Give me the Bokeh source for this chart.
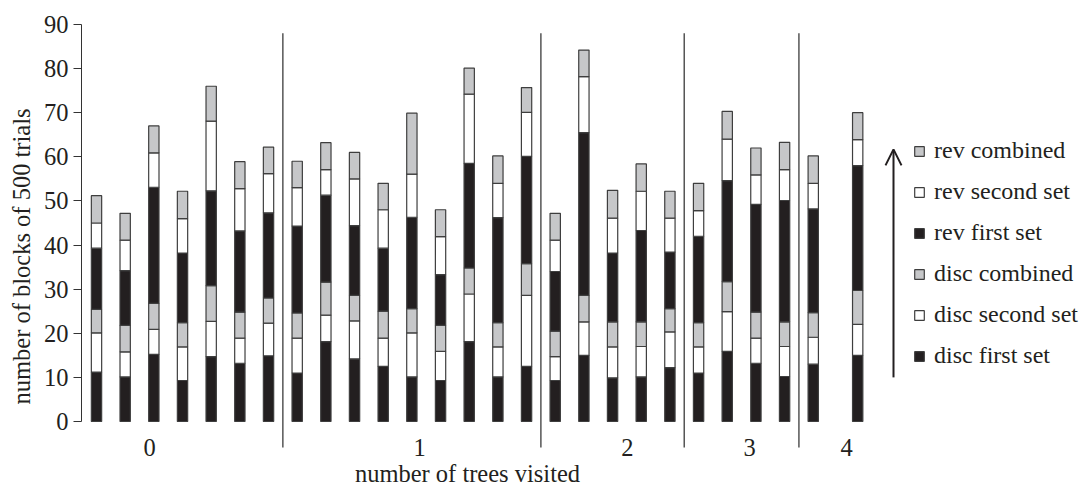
from bokeh.plotting import figure
from bokeh.models import (ColumnDataSource, Range1d, FixedTicker, Legend, LegendItem,
                          Arrow, OpenHead)
from bokeh.core.properties import value
from bokeh.embed import file_html
from bokeh.resources import INLINE

# ---- data ----
group_names = ["0", "1", "2", "3", "4"]
group_sizes = [7, 9, 5, 4, 2]
# slot position of each bar along the x axis
bar_slot = [0, 1, 2, 3, 4, 5, 6,
            7, 8, 9, 10, 11, 12, 13, 14, 15,
            16, 17, 18, 19, 20,
            21, 22, 23, 24,
            25, 26.55]

disc_first = [11.2, 10.1, 15.2, 9.3, 14.7, 13.2, 14.9,
              11.0, 18.1, 14.2, 12.5, 10.1, 9.3, 18.1, 10.1, 12.5,
              9.3, 15.0, 9.9, 10.1, 12.2,
              11.0, 15.9, 13.2, 10.2,
              13.0, 15.0]
disc_second = [8.9, 5.7, 5.7, 7.6, 8.0, 5.7, 7.4,
               7.9, 6.0, 8.6, 6.4, 10.0, 6.6, 10.8, 6.8, 16.1,
               5.4, 7.6, 7.0, 6.9, 8.1,
               5.9, 9.0, 5.7, 6.8,
               6.1, 7.0]
disc_combined = [5.3, 6.0, 5.9, 5.5, 8.1, 5.9, 5.7,
                 5.7, 7.5, 5.8, 6.1, 5.5, 5.9, 5.9, 5.5, 7.2,
                 5.8, 6.0, 5.7, 5.6, 5.3,
                 5.5, 6.8, 5.9, 5.6,
                 5.6, 7.7]
rev_first = [13.9, 12.4, 26.3, 15.8, 21.5, 18.4, 19.3,
             19.7, 19.7, 15.8, 14.3, 20.7, 11.5, 23.7, 23.8, 24.3,
             13.5, 36.9, 15.6, 20.7, 12.8,
             19.6, 22.9, 24.4, 27.5,
             23.5, 28.3]
rev_second = [5.7, 6.9, 7.8, 7.8, 15.8, 9.6, 8.9,
              8.7, 5.8, 10.6, 8.7, 9.8, 8.6, 15.7, 7.8, 10.0,
              7.1, 12.7, 7.9, 8.9, 7.7,
              5.8, 9.4, 6.7, 7.0,
              5.8, 5.9]
rev_combined = [6.2, 6.1, 6.1, 6.2, 7.9, 6.1, 6.0,
                6.0, 6.1, 6.0, 6.0, 13.8, 6.1, 5.9, 6.2, 5.6,
                6.1, 6.0, 6.3, 6.2, 6.1,
                6.2, 6.3, 6.1, 6.2,
                6.2, 6.1]

series_keys = ["disc_first", "disc_second", "disc_combined",
               "rev_first", "rev_second", "rev_combined"]
series_labels = ["disc first set", "disc second set", "disc combined",
                 "rev first set", "rev second set", "rev combined"]
y_ticks = [0, 10, 20, 30, 40, 50, 60, 70, 80, 90]

# group label positions (slot units)
group_label_x = [1.85, 11.27, 18.52, 22.78, 26.16]

BLACK = "#231f20"
GRAY = "#c6c7c9"
WHITE = "#ffffff"
EDGE = "#3e3e3e"
FONT = "Liberation Serif"
FS = "24.5px"

source = ColumnDataSource(dict(
    x=bar_slot,
    disc_first=disc_first, disc_second=disc_second, disc_combined=disc_combined,
    rev_first=rev_first, rev_second=rev_second, rev_combined=rev_combined,
))

W, H = 1081, 488
LEFT, TOP = 81, 24
px_per_slot = 28.67
px_per_unit = 397 / 90.0
frame_w = W - LEFT
frame_h = H - TOP
x0 = -15 / px_per_slot
y_top = 90
y_bot = y_top - frame_h / px_per_unit

p = figure(width=W, height=H, output_backend="svg", toolbar_location=None,
           x_range=Range1d(x0, x0 + frame_w / px_per_slot),
           y_range=Range1d(y_bot, y_top),
           min_border_left=LEFT, min_border_right=0, min_border_top=TOP,
           min_border_bottom=0, x_axis_location=None)
p.outline_line_color = None
p.grid.visible = False
p.background_fill_color = "white"

renderers = p.vbar_stack(series_keys, x="x", width=0.36, source=source,
                         fill_color=[BLACK, WHITE, GRAY, BLACK, WHITE, GRAY],
                         line_color=EDGE, line_width=1.2)

# y axis
ya = p.yaxis[0]
ya.bounds = (0, 90)
ya.ticker = FixedTicker(ticks=y_ticks)
ya.minor_tick_line_color = None
ya.major_tick_in = 0
ya.major_tick_out = 8
ya.major_tick_line_color = "#333333"
ya.axis_line_color = "#333333"
ya.major_label_text_font = FONT
ya.major_label_text_font_size = FS
ya.major_label_text_color = "#231f20"
ya.major_label_standoff = 5
ya.axis_label = "number of blocks of 500 trials"
ya.axis_label_text_font = FONT
ya.axis_label_text_font_size = FS
ya.axis_label_text_font_style = "normal"
ya.axis_label_text_color = "#231f20"
ya.axis_label_standoff = 6

# group separators
cum = 0
sep_x = []
for n in group_sizes[:-1]:
    cum += n
    sep_x.append(cum - 0.5)
sep_top = 88
sep_bottom = -26 / px_per_unit
p.segment(x0=sep_x, y0=[sep_bottom] * len(sep_x), x1=sep_x, y1=[sep_top] * len(sep_x),
          line_color="#555555", line_width=1.5)

# group labels
label_y = -26 / px_per_unit
p.text(x=group_label_x, y=[label_y] * 5, text=group_names,
       text_font=value(FONT), text_font_size=FS, text_color="#231f20",
       text_align="center", text_baseline="middle")

# x axis title
p.text(x=[(467 - 96) / px_per_slot], y=[-(473 - 421) / px_per_unit], text=["number of trees visited"],
       text_font=value(FONT), text_font_size=FS, text_color="#231f20",
       text_align="center", text_baseline="middle")

# arrow
arrow_x = (893 - 96) / px_per_slot
p.add_layout(Arrow(end=OpenHead(size=16, line_width=2, line_color="#231f20"),
                   x_start=arrow_x, y_start=10.0, x_end=arrow_x, y_end=61.7,
                   line_width=2, line_color="#231f20"))

# legend
items = [LegendItem(label=series_labels[i], renderers=[renderers[i]]) for i in range(5, -1, -1)]
legend = Legend(items=items, location=(832, 119),
                label_text_font=FONT, label_text_font_size="24px", label_text_color="#231f20",
                glyph_width=12, glyph_height=12, spacing=14, padding=0, margin=0,
                label_standoff=9, border_line_color=None, background_fill_alpha=0)
p.add_layout(legend, "center")

html = file_html(p, INLINE)
open("out.html", "w").write(html)
